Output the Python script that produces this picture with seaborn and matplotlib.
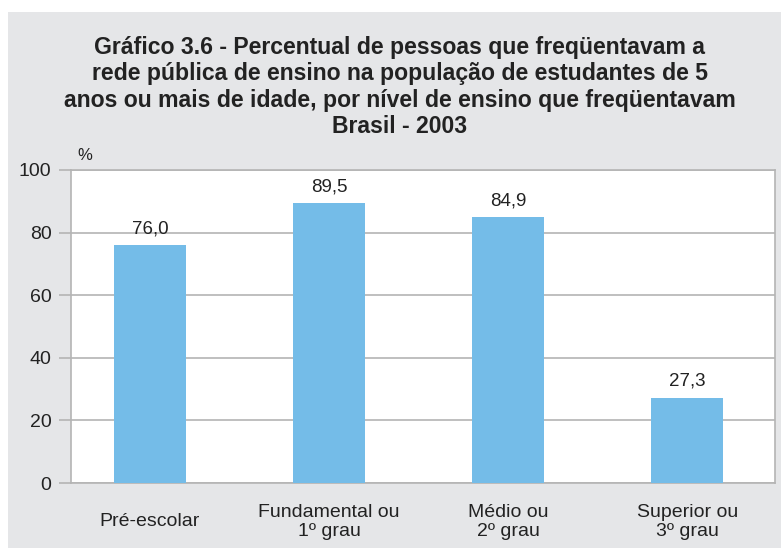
import seaborn as sns
import matplotlib.pyplot as plt
import pandas as pd
from matplotlib import font_manager

categorias = ["Pré-escolar", "Fundamental ou\n1º grau", "Médio ou\n2º grau", "Superior ou\n3º grau"]
percentuais = [76.0, 89.5, 84.9, 27.3]
yticks = [0, 20, 40, 60, 80, 100]

titulo = ("Gráfico 3.6 - Percentual de pessoas que freqüentavam a\n"
          "rede pública de ensino na população de estudantes de 5\n"
          "anos ou mais de idade, por nível de ensino que freqüentavam\n"
          "Brasil - 2003")

sns.set_style("white")
plt.rcParams['font.family'] = ['Liberation Sans', 'DejaVu Sans']

# narrow face for the title if it is installed
nomes = {f.name for f in font_manager.fontManager.ttflist}
if 'Liberation Sans Narrow' in nomes:
    fonte_titulo = ['Liberation Sans Narrow', 'Liberation Sans']
    tam_titulo, esp_titulo = 19.8, 1.08
else:
    fonte_titulo = ['Liberation Sans', 'DejaVu Sans']
    tam_titulo, esp_titulo = 16.6, 1.2

df = pd.DataFrame({'nivel': categorias, 'pct': percentuais})

fig = plt.figure(figsize=(7.81, 5.48), dpi=100)
fig.patch.set_facecolor('white')
fig.patches.append(plt.Rectangle((8 / 781, 0), 1, 1 - 12 / 548, transform=fig.transFigure,
                                 facecolor='#e5e6e8', edgecolor='none', zorder=-10))

ax = fig.add_axes([71 / 781, 1 - 483 / 548, (775 - 71) / 781, (483 - 170) / 548])
sns.barplot(data=df, x='nivel', y='pct', color='#74bce8', width=0.40, saturation=1,
            linewidth=0, ax=ax, zorder=3)

ax.set_facecolor('white')
ax.set_xlim(-0.44, 3.49)
ax.set_ylim(0, 100)
ax.set_yticks(yticks)
ax.set_yticklabels([str(t) for t in yticks], fontsize=14, color='#222222')
ax.yaxis.grid(True, color='#b4b4b4', linewidth=1.2, zorder=0)
ax.tick_params(axis='y', length=9, color='#b4b4b4', width=1.2, pad=5, left=True)
ax.tick_params(axis='x', length=0, pad=28, labelsize=14, labelcolor='#222222')
for lbl in ax.get_xticklabels():
    lbl.set_va('center')
    lbl.set_linespacing(1.15)
ax.set_xlabel('')
ax.set_ylabel('')
for s in ['left', 'right', 'bottom', 'top']:
    ax.spines[s].set_color('#b4b4b4')
    ax.spines[s].set_linewidth(1.2)

for i, v in enumerate(percentuais):
    ax.text(i, v + 2.5, f"{v:.1f}".replace('.', ','), ha='center', va='bottom',
            fontsize=13.5, color='#222222')

ax.text(0.02, 1.045, '%', transform=ax.transAxes, ha='center', va='center',
        fontsize=12, color='#222222')

fig.text(400 / 781, 1 - 87 / 548, titulo, ha='center', va='center', fontsize=tam_titulo,
         fontweight='bold', color='#222222', linespacing=esp_titulo, family=fonte_titulo)

fig.savefig('out.png', dpi=100)
